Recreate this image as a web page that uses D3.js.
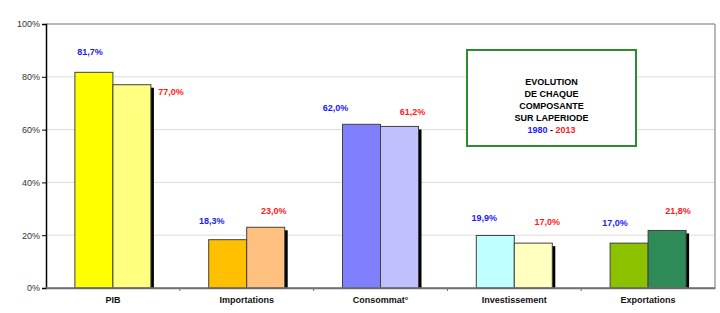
<!DOCTYPE html>
<html><head><meta charset="utf-8">
<script src="https://cdn.jsdelivr.net/npm/d3@7"></script>
<style>body{margin:0;background:#fff}svg{display:block;font-family:Arial,"Liberation Sans",sans-serif}</style>
</head><body><svg id="c" width="720" height="313"></svg>
<script>
const categories = ["PIB","Importations","Consommat°","Investissement","Exportations"];
const values1980 = [81.7, 18.3, 62.0, 19.9, 17.0];
const values2013 = [77.0, 23.0, 61.2, 17.0, 21.8];
const colors1980 = ["#FFFF00","#FFC000","#8080FF","#C0FFFF","#8CC100"];
const colors2013 = ["#FFFF80","#FFC080","#C0C0FF","#FFFFC0","#2E8B57"];
const yTicks = [0,20,40,60,80,100];
const titleLines = ["EVOLUTION","DE CHAQUE","COMPOSANTE","SUR LAPERIODE"];
const years = ["1980","2013"];
// label nudges (px) relative to bar centre / bar top
const off1 = [[-4,-20],[-16,-19],[-26,-16],[-11,-17],[-14,-20]];
const off2 = [[39,7],[8,-16],[13,-14],[14,-21],[11,-19]];

const svg = d3.select("#c");
const L=46, R=715, T=24, B=288;
const x = d3.scaleBand().domain(categories).range([L,R]);
const y = d3.scaleLinear().domain([0,100]).range([B,T]);
const bw = 38;
const fmt = v => d3.format(".1f")(v).replace(".",",")+"%";

// gridlines
svg.append("g").selectAll("line").data(yTicks.filter(t=>t>0&&t<100)).join("line")
  .attr("x1",L).attr("x2",R).attr("y1",d=>y(d)).attr("y2",d=>y(d))
  .attr("stroke","#dcdcdc").attr("stroke-width",1);
// top & right border
svg.append("line").attr("x1",L).attr("x2",R).attr("y1",y(100)).attr("y2",y(100)).attr("stroke","#a0a0a0").attr("stroke-width",1.5);
svg.append("line").attr("x1",R).attr("x2",R).attr("y1",T).attr("y2",B).attr("stroke","#a0a0a0").attr("stroke-width",1.5);

// y axis
const ya = svg.append("g").attr("transform",`translate(${L},0)`)
  .call(d3.axisLeft(y).tickValues(yTicks).tickSize(4).tickFormat(d=>d+"%"));
ya.select(".domain").attr("stroke","#000").attr("stroke-width",1.5);
ya.selectAll(".tick line").attr("stroke","#000");
ya.selectAll("text").attr("font-size",9).attr("fill","#333").attr("x",-6).attr("font-family","Arial, Liberation Sans, sans-serif");

// x axis
const xa = svg.append("g").attr("transform",`translate(0,${B})`)
  .call(d3.axisBottom(x).tickSize(0).tickPadding(9));
xa.select(".domain").attr("stroke","#707070").attr("stroke-width",1.5);
xa.selectAll("text").attr("font-size",9).attr("font-weight","bold").attr("fill","#111").attr("font-family","Arial, Liberation Sans, sans-serif");
svg.append("g").selectAll("line").data(categories.slice(1)).join("line")
  .attr("x1",d=>x(d)).attr("x2",d=>x(d)).attr("y1",B).attr("y2",B+3).attr("stroke","#707070");

const cx = d => x(d)+x.bandwidth()/2;
// shadows for second series
svg.append("g").selectAll("rect").data(categories).join("rect")
  .attr("x",(d)=>cx(d)+3).attr("y",(d,i)=>y(values2013[i])+3)
  .attr("width",bw).attr("height",(d,i)=>B-y(values2013[i])-3).attr("fill","#000");
// bars
svg.append("g").selectAll("rect").data(categories).join("rect")
  .attr("x",d=>cx(d)-bw).attr("y",(d,i)=>y(values1980[i]))
  .attr("width",bw).attr("height",(d,i)=>B-y(values1980[i]))
  .attr("fill",(d,i)=>colors1980[i]).attr("stroke","#404040").attr("stroke-width",1);
svg.append("g").selectAll("rect").data(categories).join("rect")
  .attr("x",d=>cx(d)).attr("y",(d,i)=>y(values2013[i]))
  .attr("width",bw).attr("height",(d,i)=>B-y(values2013[i]))
  .attr("fill",(d,i)=>colors2013[i]).attr("stroke","#404040").attr("stroke-width",1);
// redraw axis line over bars bottom
svg.append("line").attr("x1",L).attr("x2",R).attr("y1",B).attr("y2",B).attr("stroke","#707070").attr("stroke-width",1.5);

// labels
svg.append("g").selectAll("text").data(categories).join("text")
  .attr("x",(d,i)=>cx(d)-bw/2+off1[i][0]).attr("y",(d,i)=>y(values1980[i])+off1[i][1]+3)
  .attr("text-anchor","middle").attr("font-size",9).attr("font-weight","bold").attr("fill","#1a1aff")
  .text((d,i)=>fmt(values1980[i]));
svg.append("g").selectAll("text").data(categories).join("text")
  .attr("x",(d,i)=>cx(d)+bw/2+off2[i][0]).attr("y",(d,i)=>y(values2013[i])+off2[i][1]+3)
  .attr("text-anchor","middle").attr("font-size",9).attr("font-weight","bold").attr("fill","#ff1a1a")
  .text((d,i)=>fmt(values2013[i]));

// title box
const bx=467, by=50, bwid=169, bh=96;
svg.append("rect").attr("x",bx).attr("y",by).attr("width",bwid).attr("height",bh)
  .attr("fill","#fff").attr("stroke","#2E8B2E").attr("stroke-width",2);
const tcx = bx+bwid/2;
svg.append("g").selectAll("text").data(titleLines).join("text")
  .attr("x",tcx).attr("y",(d,i)=>85+i*12).attr("text-anchor","middle")
  .attr("font-size",9).attr("font-weight","bold").attr("fill","#000").text(d=>d);
const yt = svg.append("text").attr("x",tcx).attr("y",85+4*12).attr("text-anchor","middle")
  .attr("font-size",9).attr("font-weight","bold");
yt.append("tspan").attr("fill","#1a1aff").text(years[0]);
yt.append("tspan").attr("fill","#000").text(" - ");
yt.append("tspan").attr("fill","#ff1a1a").text(years[1]);
</script></body></html>
